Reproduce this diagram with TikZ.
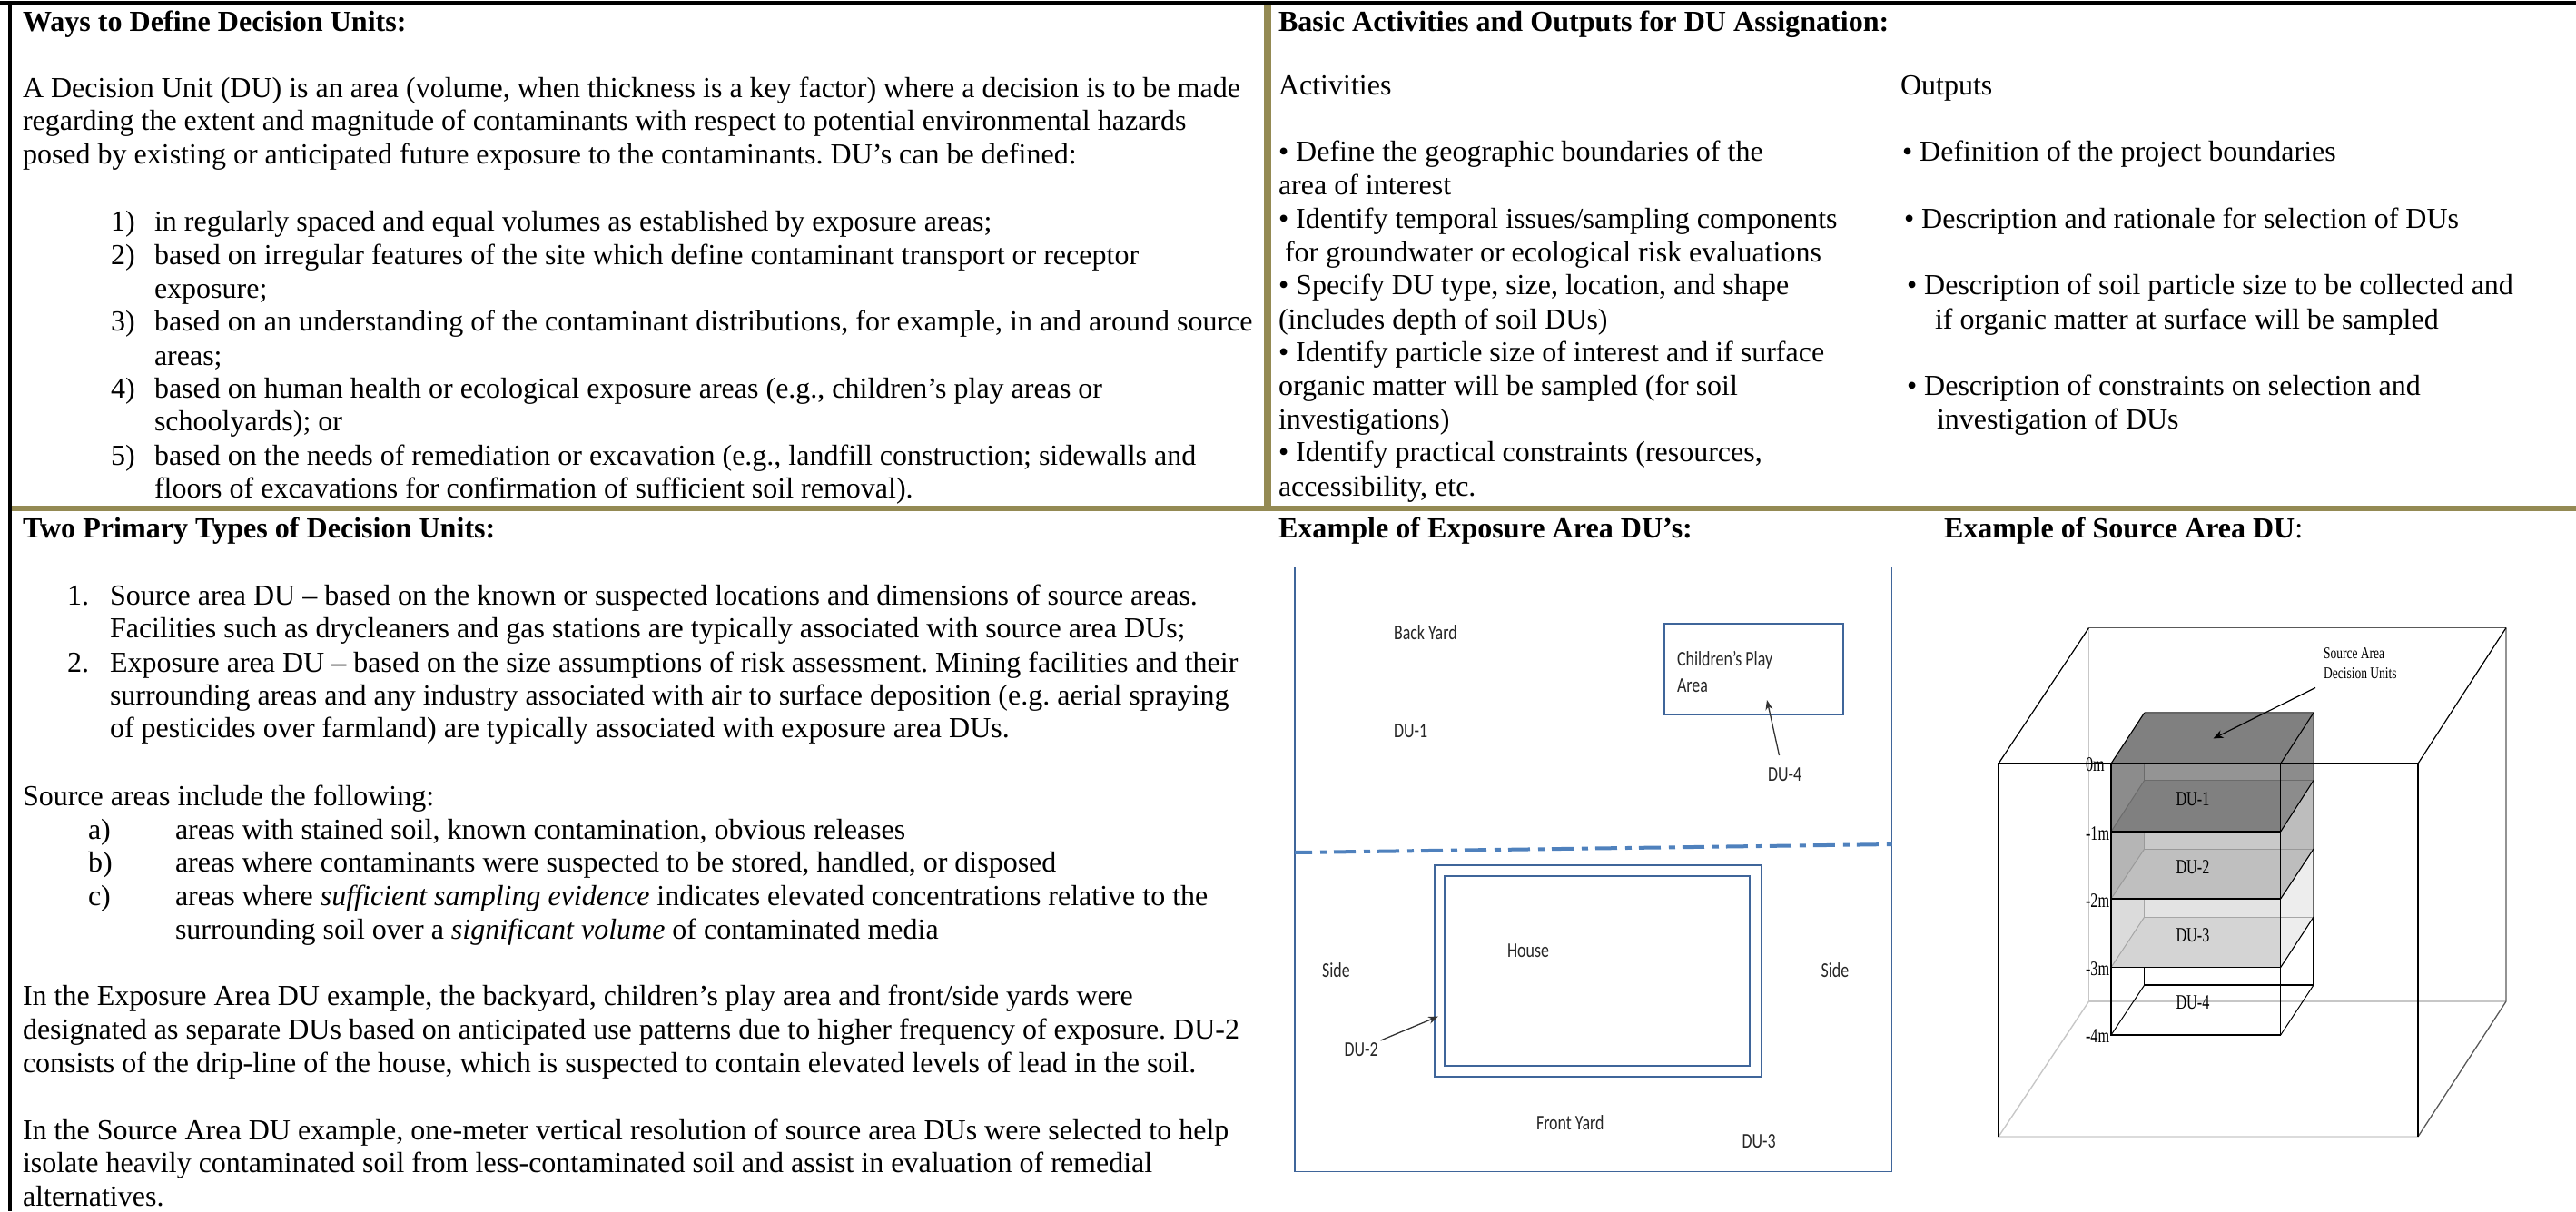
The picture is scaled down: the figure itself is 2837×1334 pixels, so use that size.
\documentclass[tikz,border=0pt]{standalone}
\usepackage{fontspec}
\usepackage{graphicx}
\setmainfont{Liberation Serif}
\newfontfamily\calfont{Carlito}
\definecolor{gold}{HTML}{948A54}
\definecolor{planblue}{HTML}{3F659A}
\definecolor{dashblue}{HTML}{4F81BD}
\newcommand{\sqzc}[1]{\scalebox{.78}[1]{\calfont\fontsize{23}{27}\selectfont #1}}
\newcommand{\sqzt}[1]{\scalebox{.72}[1]{\fontsize{22.5}{27}\selectfont #1}}
\newcommand{\sqzs}[1]{\scalebox{.75}[1]{\fontsize{18}{22}\selectfont #1}}
\tikzset{
  txt/.style={anchor=base west,inner sep=0pt,outer sep=0pt,font=\fontsize{32}{37}\selectfont},
  hd/.style={txt,font=\fontsize{32.1}{37}\selectfont\bfseries},
  lab/.style={anchor=base west,inner sep=0pt,outer sep=0pt,text=black!85},
  plan/.style={draw=planblue,line width=1.8pt},
  frame/.style={draw=black,line width=1.2pt},
  faint/.style={draw=black!22,line width=1.4pt},
  tip/.style={-{Stealth[length=11pt,width=8pt]},line width=1.3pt,black!80},
}
\usetikzlibrary{arrows.meta}
\frenchspacing
\begin{document}
\begin{tikzpicture}[x=1pt,y=-1pt]
\useasboundingbox (0,0) rectangle (2837,1334);
% frame lines
\fill[black] (0,1) rectangle (2837,5);
\fill[black] (9,1) rectangle (13,1334);
\fill[gold] (1392,5) rectangle (1400,557);
\fill[gold] (13,557) rectangle (2837,562.7);
% top-left panel
\node[hd] (h1) at (25,34) {Ways to Define Decision Units:};
\node[txt] (a1) at (25,107) {A Decision Unit (DU) is an area (volume, when thickness is a key factor) where a decision is to be made};
\node[txt] (a2) at (25,143.5) {regarding the extent and magnitude of contaminants with respect to potential environmental hazards};
\node[txt] (a3) at (25,180) {posed by existing or anticipated future exposure to the contaminants. DU’s can be defined:};
\node[txt] (n1) at (122,254.5) {1)};
\node[txt] (b1) at (170,254.5) {in regularly spaced and equal volumes as established by exposure areas;};
\node[txt] (n2) at (122,291) {2)};
\node[txt] (b2) at (170,291) {based on irregular features of the site which define contaminant transport or receptor};
\node[txt] (b2b) at (170,328) {exposure;};
\node[txt] (n3) at (122,364) {3)};
\node[txt] (b3) at (170,364) {based on an understanding of the contaminant distributions, for example, in and around source};
\node[txt] (b3b) at (170,402) {areas;};
\node[txt] (n4) at (122,438) {4)};
\node[txt] (b4) at (170,438) {based on human health or ecological exposure areas (e.g., children’s play areas or};
\node[txt] (b4b) at (170,474.5) {schoolyards); or};
\node[txt] (n5) at (122,512) {5)};
\node[txt] (b5) at (170,512) {based on the needs of remediation or excavation (e.g., landfill construction; sidewalls and};
\node[txt] (b5b) at (170,548) {floors of excavations for confirmation of sufficient soil removal).};
% top-right panel
\node[hd] (h2) at (1408,34) {Basic Activities and Outputs for DU Assignation:};
\node[txt] (act) at (1408,104) {Activities};
\node[txt] (out) at (2093,104) {Outputs};
\node[txt] (c1) at (1408,177) {• Define the geographic boundaries of the};
\node[txt] (c1b) at (1408,214) {area of interest};
\node[txt] (c2) at (1408,251) {• Identify temporal issues/sampling components};
\node[txt] (c2b) at (1415,288) {for groundwater or ecological risk evaluations};
\node[txt] (c3) at (1408,324.5) {• Specify DU type, size, location, and shape};
\node[txt] (c3b) at (1408,362) {(includes depth of soil DUs)};
\node[txt] (c4) at (1408,398) {• Identify particle size of interest and if surface};
\node[txt] (c4b) at (1408,435) {organic matter will be sampled (for soil};
\node[txt] (c4c) at (1408,472) {investigations)};
\node[txt] (c5) at (1408,508) {• Identify practical constraints (resources,};
\node[txt] (c5b) at (1408,546) {accessibility, etc.};
\node[txt] (d1) at (2095,177) {• Definition of the project boundaries};
\node[txt] (d2) at (2097,251) {• Description and rationale for selection of DUs};
\node[txt] (d3) at (2100,324.5) {• Description of soil particle size to be collected and};
\node[txt] (d3b) at (2131,362) {if organic matter at surface will be sampled};
\node[txt] (d4) at (2100,435) {• Description of constraints on selection and};
\node[txt] (d4b) at (2133,472) {investigation of DUs};
% bottom-left panel
\node[hd] (h3) at (25,592) {Two Primary Types of Decision Units:};
\node[txt] (e1n) at (74,666) {1.};
\node[txt] (e1) at (121,666) {Source area DU – based on the known or suspected locations and dimensions of source areas.};
\node[txt] (e1b) at (121,702.5) {Facilities such as drycleaners and gas stations are typically associated with source area DUs;};
\node[txt] (e2n) at (74,740) {2.};
\node[txt] (e2) at (121,740) {Exposure area DU – based on the size assumptions of risk assessment. Mining facilities and their};
\node[txt] (e2b) at (121,776) {surrounding areas and any industry associated with air to surface deposition (e.g. aerial spraying};
\node[txt] (e2c) at (121,812.5) {of pesticides over farmland) are typically associated with exposure area DUs.};
\node[txt] (f0) at (25,887.5) {Source areas include the following:};
\node[txt] (f1n) at (97,924) {a)};
\node[txt] (f1) at (193,924) {areas with stained soil, known contamination, obvious releases};
\node[txt] (f2n) at (97,960) {b)};
\node[txt] (f2) at (193,960) {areas where contaminants were suspected to be stored, handled, or disposed};
\node[txt] (f3n) at (97,997.5) {c)};
\node[txt] (f3) at (193,997.5) {areas where \textit{sufficient sampling evidence} indicates elevated concentrations relative to the};
\node[txt] (f3b) at (193,1034) {surrounding soil over a \textit{significant volume} of contaminated media};
\node[txt] (g1) at (25,1107.5) {In the Exposure Area DU example, the backyard, children’s play area and front/side yards were};
\node[txt] (g2) at (25,1144) {designated as separate DUs based on anticipated use patterns due to higher frequency of exposure. DU-2};
\node[txt] (g3) at (25,1181) {consists of the drip-line of the house, which is suspected to contain elevated levels of lead in the soil.};
\node[txt] (k1) at (25,1255) {In the Source Area DU example, one-meter vertical resolution of source area DUs were selected to help};
\node[txt] (k2) at (25,1291.5) {isolate heavily contaminated soil from less-contaminated soil and assist in evaluation of remedial};
\node[txt] (k3) at (25,1328) {alternatives.};
% bottom-right headings
\node[hd] (h4) at (1408,592) {Example of Exposure Area DU’s:};
\node[txt] (h5) at (2141,592) {\textbf{Example of Source Area DU}:};
% exposure plan
\draw[plan] (1426,624.5) rectangle (2083.5,1290.5);
\draw[plan] (1833,687) rectangle (2030,787);
\draw[plan] (1580,953) rectangle (1940,1186);
\draw[plan] (1591,965) rectangle (1927,1174);
\coordinate (divL) at (1426,939);
\coordinate (divR) at (2083.5,930);
\draw[dashblue,line width=4pt,dash pattern=on 24pt off 9pt on 7pt off 8pt,dash phase=5pt] (divL) -- (divR);
\node[lab] (back) at (1535,704) {\sqzc{Back Yard}};
\node[lab] (du1) at (1535,812.5) {\sqzc{DU-1}};
\node[lab] (play1) at (1847,733) {\sqzc{Children’s Play}};
\node[lab] (play2) at (1847,762) {\sqzc{Area}};
\node[lab] (du4) at (1947,860) {\sqzc{DU-4}};
\node[lab] (house) at (1660,1054) {\sqzc{House}};
\node[lab] (sideL) at (1456,1076.5) {\sqzc{Side}};
\node[lab] (sideR) at (2005.5,1076.5) {\sqzc{Side}};
\node[lab] (du2) at (1480.5,1163) {\sqzc{DU-2}};
\node[lab] (front) at (1692,1244) {\sqzc{Front Yard}};
\node[lab] (du3) at (1918.5,1264) {\sqzc{DU-3}};
\coordinate (du4from) at (1959.5,832);
\coordinate (du4to) at (1946,771);
\coordinate (du2from) at (1520.5,1146);
\coordinate (du2to) at (1584,1119.5);
\draw[tip] (du4from) -- (du4to);
\draw[tip] (du2from) -- (du2to);
% source block: big cuboid, back edges first
\coordinate (BTL) at (2300.5,691.5); \coordinate (BTR) at (2760,691.5);
\coordinate (BBL) at (2300.5,1103); \coordinate (BBR) at (2760,1103);
\coordinate (FTL) at (2201,841); \coordinate (FTR) at (2663,841);
\coordinate (FBL) at (2201,1252); \coordinate (FBR) at (2663,1252);
\draw[faint] (BTL) -- (BBL);
\draw[faint,line width=2.2pt] (BBL) -- (BBR);
\draw[faint] (BBL) -- (FBL) -- (FBR);
\draw[draw=black!65,line width=1.7pt] (BTL) -- (BTR);
\draw[draw=black!65,line width=1.3pt] (BTR) -- (BBR) -- (FBR);
% stack
\newcommand{\Fl}{2325} \newcommand{\Fr}{2511.7} \newcommand{\Bl}{2361.7} \newcommand{\Br}{2548}
% DU-3 (lowest filled layer first)
\fill[black!11] (\Bl,935) rectangle (\Fr,1010);
\fill[black!14] (\Fl,990) -- (\Bl,935) -- (\Bl,1010) -- (\Fl,1065.5) -- cycle;
\fill[black!17] (\Fl,1065.5) -- (\Bl,1010) -- (\Br,1010) -- (\Fr,1065.5) -- cycle;
\fill[black!7] (\Fr,990) -- (\Br,935) -- (\Br,1010) -- (\Fr,1065.5) -- cycle;
\draw[black!35,line width=1pt] (\Bl,935) -- (\Bl,1010) -- (\Br,1010);
\draw[black!35,line width=1pt] (\Fl,1065.5) -- (\Bl,1010);
% DU-2
\fill[black!21] (\Bl,859.5) rectangle (\Fr,935);
\fill[black!29] (\Fl,916) -- (\Bl,859.5) -- (\Bl,935) -- (\Fl,990) -- cycle;
\fill[black!25] (\Fl,990) -- (\Bl,935) -- (\Br,935) -- (\Fr,990) -- cycle;
\fill[black!26] (\Fr,916) -- (\Br,859.5) -- (\Br,935) -- (\Fr,990) -- cycle;
\draw[black!40,line width=1pt] (\Bl,859.5) -- (\Bl,935) -- (\Br,935);
\draw[black!40,line width=1pt] (\Fl,990) -- (\Bl,935);
% DU-1
\fill[black!42] (\Bl,785) rectangle (\Fr,859.5);
\fill[black!45] (\Fl,841) -- (\Bl,785) -- (\Bl,859.5) -- (\Fl,916) -- cycle;
\fill[black!50] (\Fl,916) -- (\Bl,859.5) -- (\Br,859.5) -- (\Fr,916) -- cycle;
\fill[black!45] (\Fr,841) -- (\Br,785) -- (\Br,859.5) -- (\Fr,916) -- cycle;
\fill[black!50] (\Bl,785) -- (\Br,785) -- (\Fr,841) -- (\Fl,841) -- cycle;
\draw[black!58,line width=1pt] (\Bl,841) -- (\Bl,859.5) -- (\Br,859.5);
\draw[black!58,line width=1pt] (\Fl,916) -- (\Bl,859.5);
% stack outlines
\draw[black,line width=1.1pt] (\Bl,1065.5) -- (\Bl,1085) -- (\Br,1085);
\draw[black!60,line width=1.5pt] (\Bl,785) -- (\Br,785) -- (\Br,1010);
\draw[black,line width=1.1pt] (\Br,1010) -- (\Br,1085);
\draw[black,line width=1.3pt] (\Fl,841) -- (\Fl,1140) -- (\Fr,1140) -- (\Fr,841);
\draw[black,line width=1.1pt] (\Fl,841) -- (\Bl,785);
\draw[black,line width=1.1pt] (\Fr,841) -- (\Br,785);
\draw[black,line width=1.4pt] (\Fl,916) -- (\Fr,916);
\draw[black,line width=1.1pt] (\Fr,916) -- (\Br,859.5);
\draw[black,line width=1.4pt] (\Fl,990) -- (\Fr,990);
\draw[black,line width=1.1pt] (\Fr,990) -- (\Br,935);
\draw[black,line width=1.4pt] (\Fl,1065.5) -- (\Fr,1065.5);
\draw[black,line width=1.1pt] (\Fr,1065.5) -- (\Br,1010);
\draw[black,line width=1pt] (\Fr,1140) -- (\Br,1085);
\draw[black,line width=1pt] (\Fl,1140) -- (\Bl,1085);
% front edges of big cuboid
\draw[frame] (FBL) -- (FTL) -- (FTR) -- (FBR);
\draw[frame] (FTL) -- (BTL);
\draw[frame] (FTR) -- (BTR);
% labels
\node[lab,text=black] (m0) at (2297,849) {\sqzt{0m}};
\node[lab,text=black] (m1) at (2297,925) {\sqzt{-1m}};
\node[lab,text=black] (m2) at (2297,999) {\sqzt{-2m}};
\node[lab,text=black] (m3) at (2297,1074) {\sqzt{-3m}};
\node[lab,text=black] (m4) at (2297,1148) {\sqzt{-4m}};
\node[lab,text=black] (s1) at (2396.5,887) {\sqzt{DU-1}};
\node[lab,text=black] (s2) at (2396.5,962) {\sqzt{DU-2}};
\node[lab,text=black] (s3) at (2396.5,1037) {\sqzt{DU-3}};
\node[lab,text=black] (s4) at (2396.5,1111) {\sqzt{DU-4}};
\node[lab,text=black] (sa1) at (2559,725) {\sqzs{Source Area}};
\node[lab,text=black] (sa2) at (2559,747) {\sqzs{Decision Units}};
\coordinate (saFrom) at (2550,757.5);
\coordinate (saTo) at (2437.5,813.5);
\draw[-{Stealth[length=11pt,width=9pt]},line width=1.2pt,black] (saFrom) -- (saTo);
\end{tikzpicture}
\end{document}
